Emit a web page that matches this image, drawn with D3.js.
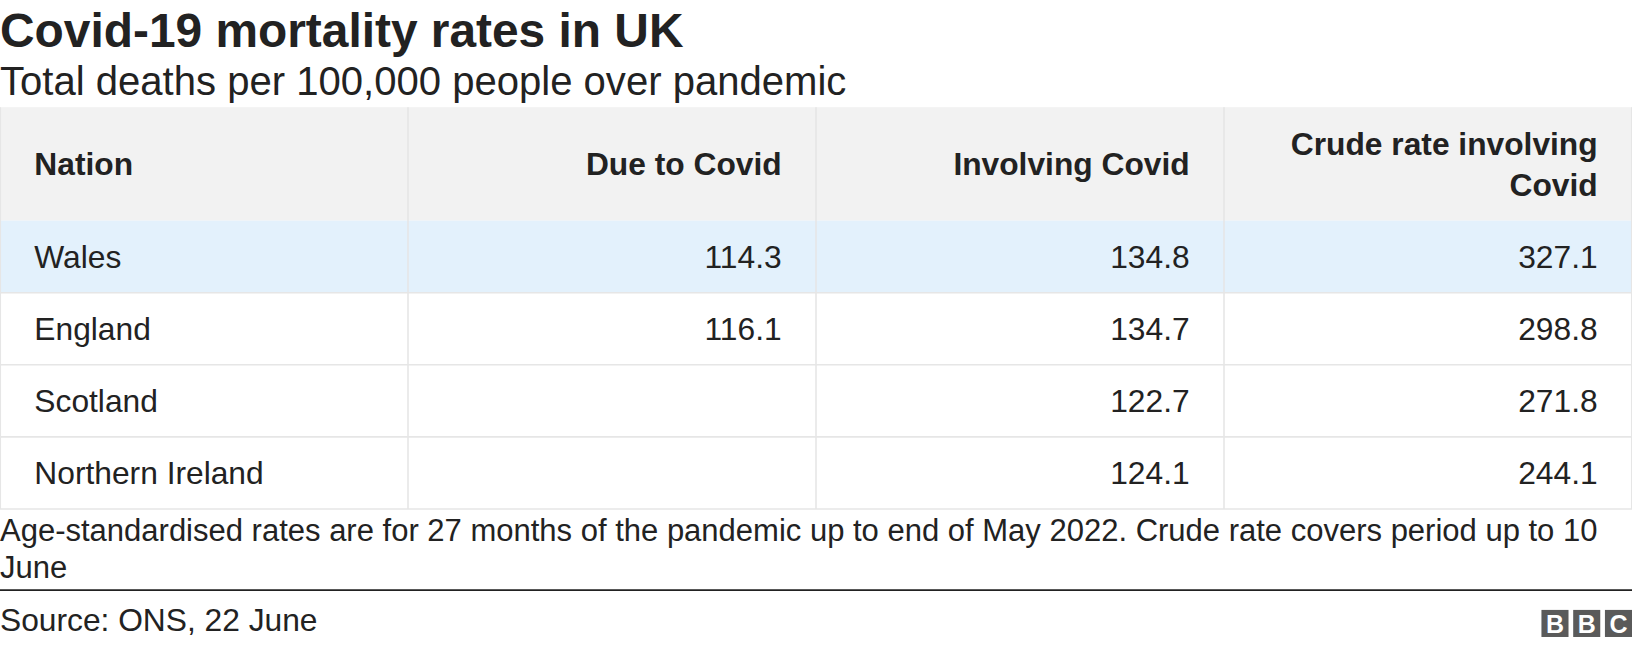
<!DOCTYPE html>
<html><head><meta charset="utf-8">
<script src="https://cdn.jsdelivr.net/npm/d3@7"></script>
<style>body{margin:0;background:#fff;font-family:"Liberation Sans",Arial,sans-serif}</style>
</head><body><div id="chart"></div>
<script>
var headers = ["Nation", "Due to Covid", "Involving Covid", "Crude rate involving|Covid"];
var nations = ["Wales", "England", "Scotland", "Northern Ireland"];
var dueTo = ["114.3", "116.1", "", ""];
var involving = ["134.8", "134.7", "122.7", "124.1"];
var crude = ["327.1", "298.8", "271.8", "244.1"];

var width = 1632, height = 646;
var svg = d3.select("#chart").append("svg").attr("width", width).attr("height", height)
  .append("g").attr("transform", "scale(" + (1632 / 1568) + ")");

svg.append("text").attr("x", 0).attr("y", 45).attr("font-size", 46).attr("font-weight", "bold").attr("fill", "#222").text("Covid-19 mortality rates in UK");
svg.append("text").attr("x", 0).attr("y", 91).attr("font-size", 38.5).attr("fill", "#222").text("Total deaths per 100,000 people over pandemic");

var x = d3.scaleLinear().domain([0, 4]).range([0, 1568]);
var headTop = 103, headH = 109, rowH = 69.25;
var y = d3.scaleBand().domain(nations).range([headTop + headH, headTop + headH + rowH * 4]);
var pad = 33;

svg.append("rect").attr("x", 0).attr("y", headTop).attr("width", x(4)).attr("height", headH).attr("fill", "#f2f2f2");
var cols = [nations, dueTo, involving, crude];

nations.forEach(function(n, i) {
  svg.append("rect").attr("x", 0).attr("y", y(n)).attr("width", x(4)).attr("height", y.bandwidth())
    .attr("fill", i === 0 ? "#e3f1fc" : "#fff");
});
d3.range(1, 4).forEach(function(c) {
  svg.append("line").attr("x1", x(c)).attr("x2", x(c)).attr("y1", headTop).attr("y2", y.range()[1]).attr("stroke", "#e6e6e6").attr("stroke-width", 1.5);
});
nations.forEach(function(n) {
  svg.append("line").attr("x1", 0).attr("x2", x(4)).attr("y1", y(n) + y.bandwidth()).attr("y2", y(n) + y.bandwidth()).attr("stroke", "#e6e6e6").attr("stroke-width", 1.5);
});
svg.append("line").attr("x1", 0.5).attr("x2", 0.5).attr("y1", headTop).attr("y2", y.range()[1]).attr("stroke", "#e6e6e6");
svg.append("line").attr("x1", x(4) - 0.5).attr("x2", x(4) - 0.5).attr("y1", headTop).attr("y2", y.range()[1]).attr("stroke", "#e6e6e6");

headers.forEach(function(h, c) {
  var lines = h.split("|");
  var t = svg.append("text").attr("font-size", 30.5).attr("font-weight", "bold").attr("fill", "#222")
    .attr("text-anchor", c === 0 ? "start" : "end");
  var tx = c === 0 ? x(0) + pad : x(c + 1) - pad;
  var cy = headTop + headH / 2 + 11 - (lines.length - 1) * 19.5;
  lines.forEach(function(l, k) {
    t.append("tspan").attr("x", tx).attr("y", cy + k * 39).text(l);
  });
});

cols.forEach(function(vals, c) {
  svg.selectAll(null).data(vals).enter().append("text")
    .attr("x", c === 0 ? x(0) + pad : x(c + 1) - pad)
    .attr("y", function(d, i) { return y(nations[i]) + y.bandwidth() / 2 + 11; })
    .attr("text-anchor", c === 0 ? "start" : "end")
    .attr("font-size", 30.5).attr("fill", "#222").text(function(d) { return d; });
});

svg.append("text").attr("x", 0).attr("y", 520).attr("font-size", 29.8).attr("fill", "#222").text("Age-standardised rates are for 27 months of the pandemic up to end of May 2022. Crude rate covers period up to 10");
svg.append("text").attr("x", 0).attr("y", 555).attr("font-size", 29.8).attr("fill", "#222").text("June");
svg.append("line").attr("x1", 0).attr("x2", 1568).attr("y1", 567).attr("y2", 567).attr("stroke", "#222").attr("stroke-width", 1.5);
svg.append("text").attr("x", 0).attr("y", 606).attr("font-size", 30.5).attr("fill", "#222").text("Source: ONS, 22 June");

var logo = svg.append("g").attr("transform", "translate(1481,586)");
["B", "B", "C"].forEach(function(l, i) {
  logo.append("rect").attr("x", i * 30.5).attr("y", 0).attr("width", 26).attr("height", 26).attr("fill", "#5a5a5a");
  logo.append("text").attr("x", i * 30.5 + 13).attr("y", 22).attr("text-anchor", "middle").attr("font-size", 24).attr("font-weight", "bold").attr("fill", "#fff").text(l);
});
</script></body></html>
